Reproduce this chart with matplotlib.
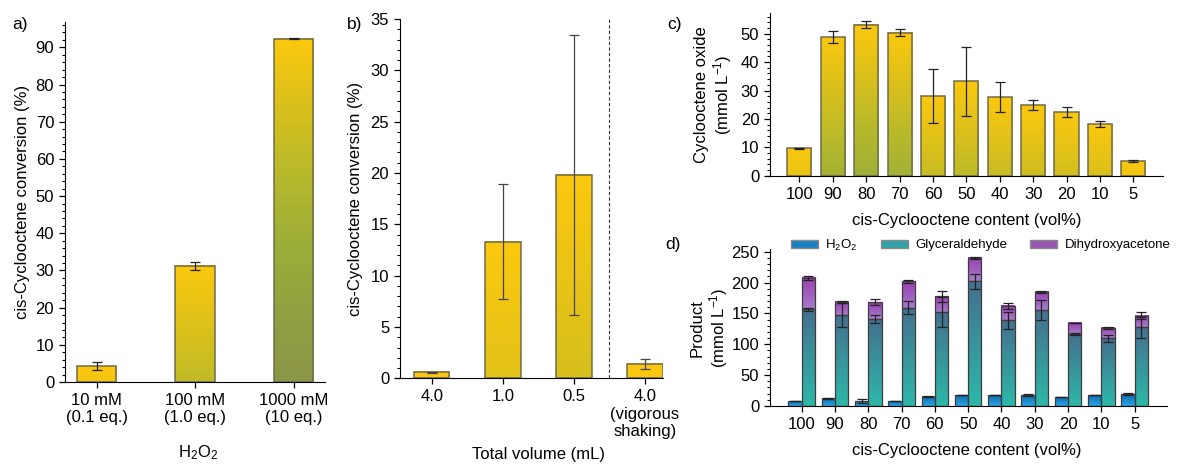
import matplotlib.pyplot as plt
import numpy as np
from matplotlib.colors import LinearSegmentedColormap, to_rgba
from matplotlib.patches import Patch
from matplotlib.ticker import MultipleLocator

plt.rcParams['font.family'] = ['Liberation Sans', 'DejaVu Sans']
plt.rcParams['font.size'] = 12
plt.rcParams['mathtext.default'] = 'regular'

# a) amount of H2O2
a_labels = ['10 mM\n(0.1 eq.)', '100 mM\n(1.0 eq.)', '1000 mM\n(10 eq.)']
a_conv = [4.2, 31.3, 92.3]
a_err = [1.1, 1.1, 0.1]

# b) total volume
b_labels = ['4.0', '1.0', '0.5', '4.0\n(vigorous\nshaking)']
b_conv = [0.6, 13.3, 19.8, 1.4]
b_err = [0.05, 5.6, 13.6, 0.5]

# c) / d) cis-cyclooctene content
content = ['100', '90', '80', '70', '60', '50', '40', '30', '20', '10', '5']
c_oxide = [9.7, 48.8, 53.2, 50.4, 28.1, 33.2, 27.8, 24.8, 22.5, 18.1, 5.1]
c_err = [0.2, 2.0, 1.2, 1.3, 9.6, 12.2, 5.3, 1.7, 1.7, 1.1, 0.45]

d_h2o2 = [8.1, 12.4, 8.1, 8.1, 15.1, 17.8, 17.8, 17.8, 14.1, 17.8, 18.9]
d_h2o2_err = [0.5, 1.0, 3.0, 0.5, 0.5, 0.5, 0.5, 1.0, 0.3, 0.5, 1.5]
d_gly = [156.6, 147.4, 141.0, 159.3, 152.8, 202.0, 138.8, 155.5, 116.1, 109.6, 127.4]
d_gly_err = [2.0, 20.0, 7.0, 10.5, 24.0, 12.0, 14.0, 15.6, 1.5, 5.7, 17.0]
d_dha = [51.3, 21.1, 27.5, 42.7, 24.9, 37.7, 23.7, 29.2, 18.4, 16.8, 18.9]
d_dha_err = [3.0, 1.5, 5.5, 2.0, 8.6, 1.5, 4.5, 2.0, 0.3, 2.0, 5.5]

W, H = 1179, 466
fig = plt.figure(figsize=(W / 100, H / 100), dpi=100)

# yellow -> olive, indexed by depth below the bar top (data units / 100)
ycmap = LinearSegmentedColormap.from_list(
    'yel', [(0, '#fbc80e'), (0.2, '#d6bf1d'), (0.35, '#b9ba2b'),
            (0.55, '#9cae38'), (0.75, '#90a042'), (1.0, '#8a9249')])


def px_axes(x0, x1, ytop, ybot):
    return fig.add_axes([x0 / W, 1 - ybot / H, (x1 - x0) / W, (ybot - ytop) / H])


def yellow_bar(ax, x, h, w):
    ys = np.linspace(0, h, 200)
    cols = ycmap(np.clip((h - ys) / 100, 0, 1))
    ax.imshow(cols[:, None, :], extent=[x - w / 2, x + w / 2, 0, h], origin='lower',
              aspect='auto', zorder=1, interpolation='bilinear')
    ax.bar(x, h, w, facecolor='none', edgecolor='#6f6c4c', lw=1.1, zorder=2)


def two_tone_bar(ax, x, bottom, h, w, c_bot, c_top):
    t = np.linspace(0, 1, 100)[:, None]
    cols = np.array(to_rgba(c_bot)) * (1 - t) + np.array(to_rgba(c_top)) * t
    ax.imshow(cols[:, None, :], extent=[x - w / 2, x + w / 2, bottom, bottom + h],
              origin='lower', aspect='auto', zorder=1, interpolation='bilinear')
    ax.bar(x, h, w, bottom=bottom, facecolor='none', edgecolor='#3d3d3d', lw=0.9, zorder=2)


def style(ax, xlim, ylim, yspine, major, minor):
    ax.set_xlim(*xlim)
    ax.set_ylim(*ylim)
    ax.spines[['top', 'right']].set_visible(False)
    ax.spines['left'].set_position(('data', yspine))
    ax.yaxis.set_major_locator(MultipleLocator(major))
    ax.yaxis.set_minor_locator(MultipleLocator(minor))
    ax.tick_params(which='major', length=4.3, width=0.9, labelsize=12)
    ax.tick_params(which='minor', length=2.2, width=0.8)
    ax.tick_params(axis='x', which='minor', bottom=False)


ebar = dict(fmt='none', ecolor='#222222', elinewidth=0.9, capsize=3.3, capthick=0.9, zorder=3)

# ---- a)
ax = px_axes(60, 325, 21.7, 382)
xa = np.arange(len(a_conv))
for x, v in zip(xa, a_conv):
    yellow_bar(ax, x, v, 0.4)
ax.errorbar(xa, a_conv, yerr=a_err, **ebar)
style(ax, (-0.373, 2.32), (0, 96.9), -0.322, 10, 2)
ax.set_xticks(xa, a_labels)
ax.set_ylabel('cis-Cyclooctene conversion (%)', va='center')
ax.yaxis.set_label_coords(-0.143, 0.5)
ax.set_xlabel('H$_2$O$_2$', va='center')
ax.xaxis.set_label_coords(0.52, -0.197)

# ---- b)
ax = px_axes(395, 663, 19, 378.3)
xb = np.arange(len(b_conv))
for x, v in zip(xb, b_conv):
    yellow_bar(ax, x, v, 0.5)
ax.errorbar(xb, b_conv, yerr=b_err, **dict(ebar, ecolor='#444444'))
ax.axvline(2.5, color='#333333', ls=(0, (3, 2)), lw=0.8)
style(ax, (-0.516, 3.253), (0, 35), -0.446, 5, 1)
ax.set_xticks(xb, b_labels)
ax.set_ylabel('cis-Cyclooctene conversion (%)', va='center')
ax.yaxis.set_label_coords(-0.149, 0.5)
ax.set_xlabel('Total volume (mL)', va='center')
ax.xaxis.set_label_coords(0.534, -0.213)

# ---- c)
ax = px_axes(766, 1163, 13.3, 175.7)
xc = np.arange(len(content))
for x, v in zip(xc, c_oxide):
    yellow_bar(ax, x, v, 0.72)
ax.errorbar(xc, c_oxide, yerr=c_err, **ebar)
style(ax, (-1.0, 10.89), (0, 57.2), -0.877, 10, 2)
ax.set_xticks(xc, content)
ax.set_ylabel('Cyclooctene oxide\n(mmol L$^{-1}$)', va='center', linespacing=1.1)
ax.yaxis.set_label_coords(-0.131, 0.5)
ax.set_xlabel('cis-Cyclooctene content (vol%)', va='center')
ax.xaxis.set_label_coords(0.506, -0.273)

# ---- d)
ax = px_axes(766, 1167, 249.3, 406)
xd = np.arange(len(content))
bw = 0.4
gly_top = np.array(d_gly) + np.array(d_dha)
for x, h2, g, dh in zip(xd, d_h2o2, d_gly, d_dha):
    two_tone_bar(ax, x - bw / 2, 0, h2, bw, '#25a8e8', '#1668aa')
    two_tone_bar(ax, x + bw / 2, 0, g, bw, '#2db8a9', '#44708f')
    two_tone_bar(ax, x + bw / 2, g, dh, bw, '#a57dc9', '#9a3fb2')
ax.errorbar(xd - bw / 2, d_h2o2, yerr=d_h2o2_err, **ebar)
ax.errorbar(xd + bw / 2, d_gly, yerr=d_gly_err, **ebar)
ax.errorbar(xd + bw / 2, gly_top, yerr=d_dha_err, **ebar)
style(ax, (-1.07, 10.97), (0, 254), -0.95, 50, 10)
ax.set_xticks(xd, content)
ax.set_ylabel('Product\n(mmol L$^{-1}$)', va='center', linespacing=1.1)
ax.yaxis.set_label_coords(-0.14, 0.5)
ax.set_xlabel('cis-Cyclooctene content (vol%)', va='center')
ax.xaxis.set_label_coords(0.5, -0.281)

handles = [Patch(facecolor='#1b7fc4', edgecolor='#8a8a8a', label='H$_2$O$_2$'),
           Patch(facecolor='#2ea3a8', edgecolor='#8a8a8a', label='Glyceraldehyde'),
           Patch(facecolor='#9b55b5', edgecolor='#8a8a8a', label='Dihydroxyacetone')]
fig.legend(handles=handles, ncol=3, loc='center left', frameon=False, fontsize=9.5,
           bbox_to_anchor=(791 / W, 1 - 245 / H), handlelength=2.05, handleheight=0.6,
           handletextpad=0.55, columnspacing=1.75, borderaxespad=0, borderpad=0)

# panel letters
for txt, px, py in [('a)', 20, 25), ('b)', 355, 24), ('c)', 675, 25), ('d)', 673, 245)]:
    fig.text(px / W, 1 - py / H, txt, ha='center', va='center', fontsize=12.5)

fig.savefig('out.png', dpi=100)
